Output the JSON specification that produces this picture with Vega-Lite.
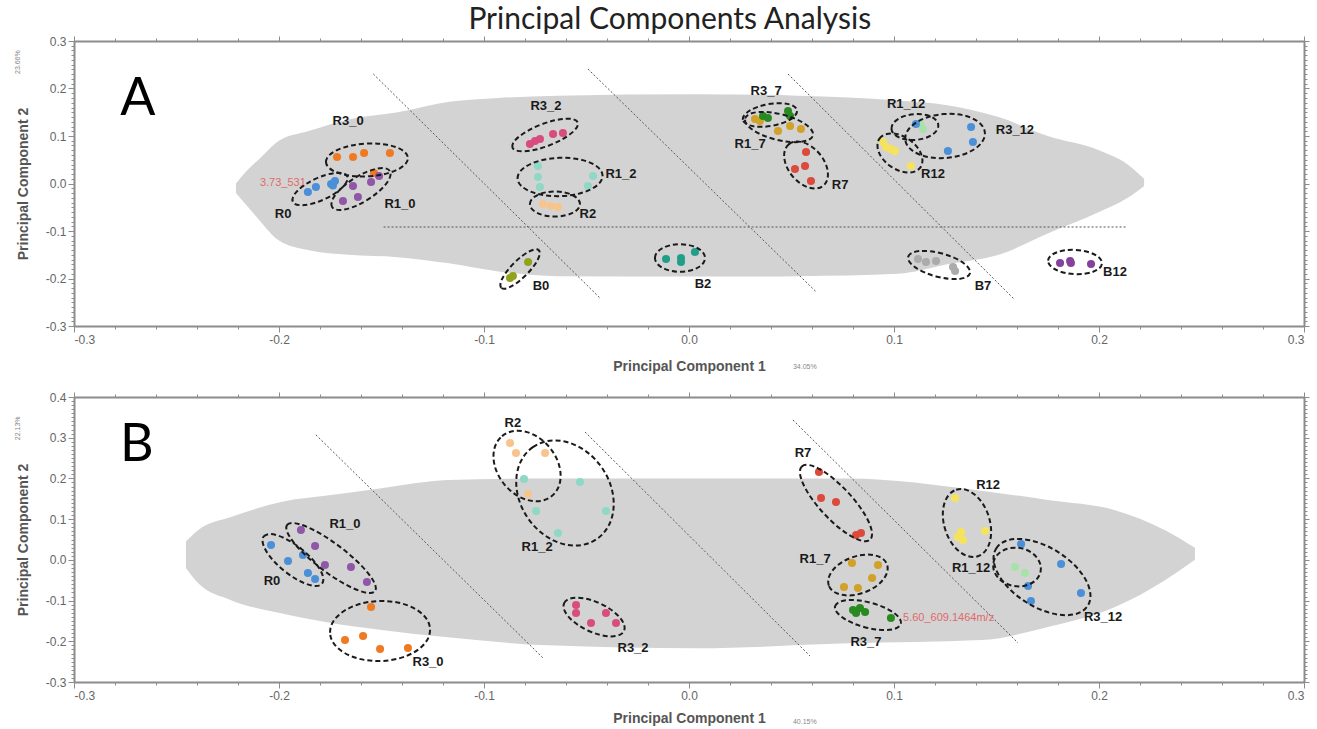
{
  "$schema": "https://vega.github.io/schema/vega-lite/v6.json",
  "background": "white",
  "padding": {"left": 14, "top": 5, "right": 5, "bottom": 2},
  "title": {"text": "Principal Components Analysis", "font": "Lato", "fontSize": 30, "fontWeight": "normal", "color": "#222", "anchor": "middle", "offset": 0, "dx": 8},
  "config": {
    "view": {"stroke": null},
    "axis": {"grid": false, "domainColor": "#8c8c8c", "domainWidth": 2, "tickColor": "#8c8c8c", "labelFont": "Liberation Sans", "labelFontSize": 12, "labelColor": "#666", "titleFont": "Liberation Sans", "titleFontSize": 14, "titleFontWeight": "bold", "titleColor": "#555"}
  },
  "datasets": {
    "cloudA": [
      {"x": -0.221, "top": 0.0, "bot": -0.02},
      {"x": -0.215, "top": 0.03, "bot": -0.05},
      {"x": -0.21, "top": 0.05, "bot": -0.075},
      {"x": -0.2, "top": 0.09, "bot": -0.12},
      {"x": -0.186, "top": 0.11, "bot": -0.14},
      {"x": -0.166, "top": 0.135, "bot": -0.15},
      {"x": -0.142, "top": 0.15, "bot": -0.155},
      {"x": -0.117, "top": 0.172, "bot": -0.168},
      {"x": -0.093, "top": 0.18, "bot": -0.185},
      {"x": -0.064, "top": 0.185, "bot": -0.195},
      {"x": 0.004, "top": 0.188, "bot": -0.196},
      {"x": 0.053, "top": 0.185, "bot": -0.195},
      {"x": 0.102, "top": 0.175, "bot": -0.19},
      {"x": 0.126, "top": 0.165, "bot": -0.17},
      {"x": 0.151, "top": 0.14, "bot": -0.15},
      {"x": 0.175, "top": 0.1, "bot": -0.105},
      {"x": 0.2, "top": 0.07, "bot": -0.06},
      {"x": 0.214, "top": 0.04, "bot": -0.03},
      {"x": 0.222, "top": 0.01, "bot": -0.005}
    ],
    "cloudB": [
      {"x": -0.2454, "top": 0.045, "bot": -0.02},
      {"x": -0.2395, "top": 0.073, "bot": -0.057},
      {"x": -0.2234, "top": 0.105, "bot": -0.099},
      {"x": -0.199, "top": 0.142, "bot": -0.131},
      {"x": -0.1746, "top": 0.159, "bot": -0.155},
      {"x": -0.15, "top": 0.176, "bot": -0.172},
      {"x": -0.1176, "top": 0.196, "bot": -0.19},
      {"x": -0.0688, "top": 0.2, "bot": -0.21},
      {"x": 0.0044, "top": 0.2, "bot": -0.217},
      {"x": 0.0776, "top": 0.2, "bot": -0.205},
      {"x": 0.1424, "top": 0.17, "bot": -0.197},
      {"x": 0.1751, "top": 0.147, "bot": -0.165},
      {"x": 0.2078, "top": 0.122, "bot": -0.116},
      {"x": 0.2322, "top": 0.073, "bot": -0.05},
      {"x": 0.2468, "top": 0.03, "bot": 0.0}
    ],
    "linesA": [
      {"x": -0.154, "y": 0.2305, "x2": -0.043, "y2": -0.243},
      {"x": -0.0493, "y": 0.241, "x2": 0.062, "y2": -0.228},
      {"x": 0.0483, "y": 0.2305, "x2": 0.1585, "y2": -0.243},
      {"x": -0.149, "y": -0.0916, "x2": 0.213, "y2": -0.0916}
    ],
    "linesB": [
      {"x": -0.182, "y": 0.307, "x2": -0.0712, "y2": -0.241},
      {"x": -0.0507, "y": 0.314, "x2": 0.059, "y2": -0.236},
      {"x": 0.0507, "y": 0.3435, "x2": 0.1605, "y2": -0.204}
    ],
    "redA": [{"x": -0.2093, "y": 0.001, "text": "3.73_531"}],
    "redB": [{"x": 0.1044, "y": -0.143, "text": "5.60_609.1464m/z"}],
    "ptsA": [
      {"g": "R3_0", "x": -0.1717, "y": 0.0558}, {"g": "R3_0", "x": -0.1639, "y": 0.0558}, {"g": "R3_0", "x": -0.1585, "y": 0.0642}, {"g": "R3_0", "x": -0.1459, "y": 0.0642}, {"g": "R3_0", "x": -0.1537, "y": 0.022},
      {"g": "R0", "x": -0.1859, "y": -0.018}, {"g": "R0", "x": -0.182, "y": -0.0074}, {"g": "R0", "x": -0.1746, "y": -0.0011}, {"g": "R0", "x": -0.1727, "y": 0.0053}, {"g": "R0", "x": -0.1737, "y": -0.0042},
      {"g": "R1_0", "x": -0.1639, "y": -0.0053}, {"g": "R1_0", "x": -0.1688, "y": -0.0368}, {"g": "R1_0", "x": -0.1615, "y": -0.0284}, {"g": "R1_0", "x": -0.1551, "y": 0.0032}, {"g": "R1_0", "x": -0.1512, "y": 0.0158},
      {"g": "R3_2", "x": -0.0776, "y": 0.0832}, {"g": "R3_2", "x": -0.0751, "y": 0.0895}, {"g": "R3_2", "x": -0.0727, "y": 0.0937}, {"g": "R3_2", "x": -0.0663, "y": 0.1042}, {"g": "R3_2", "x": -0.0615, "y": 0.1063},
      {"g": "R1_2", "x": -0.0737, "y": 0.0368}, {"g": "R1_2", "x": -0.0737, "y": 0.0137}, {"g": "R1_2", "x": -0.0727, "y": -0.0074}, {"g": "R1_2", "x": -0.0493, "y": -0.0053}, {"g": "R1_2", "x": -0.0468, "y": 0.0158},
      {"g": "R2", "x": -0.0712, "y": -0.0432}, {"g": "R2", "x": -0.0673, "y": -0.0474}, {"g": "R2", "x": -0.0639, "y": -0.0495},
      {"g": "B0", "x": -0.0859, "y": -0.1947}, {"g": "B0", "x": -0.0785, "y": -0.1653}, {"g": "B0", "x": -0.0873, "y": -0.199},
      {"g": "B2", "x": -0.0112, "y": -0.1589}, {"g": "B2", "x": -0.0039, "y": -0.1653}, {"g": "B2", "x": -0.0039, "y": -0.1568}, {"g": "B2", "x": 0.0029, "y": -0.1442},
      {"g": "R1_7", "x": 0.0322, "y": 0.1358}, {"g": "R1_7", "x": 0.0346, "y": 0.1316}, {"g": "R1_7", "x": 0.0434, "y": 0.1105}, {"g": "R1_7", "x": 0.0493, "y": 0.1211}, {"g": "R1_7", "x": 0.0546, "y": 0.1147},
      {"g": "R3_7", "x": 0.0361, "y": 0.1421}, {"g": "R3_7", "x": 0.0483, "y": 0.1526}, {"g": "R3_7", "x": 0.0385, "y": 0.1379}, {"g": "R3_7", "x": 0.0493, "y": 0.1421},
      {"g": "R7", "x": 0.0571, "y": 0.0663}, {"g": "R7", "x": 0.0566, "y": 0.0368}, {"g": "R7", "x": 0.0517, "y": 0.0305}, {"g": "R7", "x": 0.0595, "y": 0.0053},
      {"g": "R1_12", "x": 0.1127, "y": 0.1253}, {"g": "R1_12", "x": 0.1141, "y": 0.1147},
      {"g": "R3_12", "x": 0.1376, "y": 0.1189}, {"g": "R3_12", "x": 0.1385, "y": 0.0874}, {"g": "R3_12", "x": 0.1263, "y": 0.0684}, {"g": "R3_12", "x": 0.1107, "y": 0.1253},
      {"g": "R12", "x": 0.0961, "y": 0.0768}, {"g": "R12", "x": 0.1005, "y": 0.0684}, {"g": "R12", "x": 0.1083, "y": 0.0368}, {"g": "R12", "x": 0.0946, "y": 0.0874}, {"g": "R12", "x": 0.0985, "y": 0.0726},
      {"g": "B7", "x": 0.1117, "y": -0.1589}, {"g": "B7", "x": 0.1156, "y": -0.1653}, {"g": "B7", "x": 0.1205, "y": -0.1632}, {"g": "B7", "x": 0.1288, "y": -0.1758}, {"g": "B7", "x": 0.1298, "y": -0.1842},
      {"g": "B12", "x": 0.181, "y": -0.1674}, {"g": "B12", "x": 0.1859, "y": -0.1632}, {"g": "B12", "x": 0.1863, "y": -0.1674}, {"g": "B12", "x": 0.1961, "y": -0.1695}
    ],
    "ptsB": [
      {"g": "R0", "x": -0.2039, "y": 0.0365}, {"g": "R0", "x": -0.1956, "y": -0.0028}, {"g": "R0", "x": -0.1883, "y": 0.0119}, {"g": "R0", "x": -0.1859, "y": -0.0323}, {"g": "R0", "x": -0.1824, "y": -0.0471},
      {"g": "R1_0", "x": -0.1893, "y": 0.0733}, {"g": "R1_0", "x": -0.1824, "y": 0.034}, {"g": "R1_0", "x": -0.1776, "y": -0.0127}, {"g": "R1_0", "x": -0.1649, "y": -0.0176}, {"g": "R1_0", "x": -0.1571, "y": -0.0544},
      {"g": "R3_0", "x": -0.1551, "y": -0.1158}, {"g": "R3_0", "x": -0.1678, "y": -0.1969}, {"g": "R3_0", "x": -0.159, "y": -0.1871}, {"g": "R3_0", "x": -0.1507, "y": -0.219}, {"g": "R3_0", "x": -0.1371, "y": -0.2166},
      {"g": "R2", "x": -0.0873, "y": 0.287}, {"g": "R2", "x": -0.0844, "y": 0.2624}, {"g": "R2", "x": -0.0702, "y": 0.2624}, {"g": "R2", "x": -0.0785, "y": 0.1617},
      {"g": "R1_2", "x": -0.0805, "y": 0.1986}, {"g": "R1_2", "x": -0.0532, "y": 0.1912}, {"g": "R1_2", "x": -0.0746, "y": 0.12}, {"g": "R1_2", "x": -0.0405, "y": 0.12}, {"g": "R1_2", "x": -0.0639, "y": 0.0659},
      {"g": "R3_2", "x": -0.0551, "y": -0.1109}, {"g": "R3_2", "x": -0.0551, "y": -0.1306}, {"g": "R3_2", "x": -0.0478, "y": -0.1551}, {"g": "R3_2", "x": -0.0405, "y": -0.1306}, {"g": "R3_2", "x": -0.0356, "y": -0.1551},
      {"g": "R7", "x": 0.0634, "y": 0.2158}, {"g": "R7", "x": 0.0644, "y": 0.1519}, {"g": "R7", "x": 0.0717, "y": 0.1421}, {"g": "R7", "x": 0.0815, "y": 0.061}, {"g": "R7", "x": 0.0839, "y": 0.0659},
      {"g": "R1_7", "x": 0.0795, "y": -0.0078}, {"g": "R1_7", "x": 0.0922, "y": -0.0127}, {"g": "R1_7", "x": 0.0893, "y": -0.0446}, {"g": "R1_7", "x": 0.0756, "y": -0.0667}, {"g": "R1_7", "x": 0.0824, "y": -0.0692},
      {"g": "R3_7", "x": 0.08, "y": -0.1232}, {"g": "R3_7", "x": 0.0834, "y": -0.1183}, {"g": "R3_7", "x": 0.0859, "y": -0.1281}, {"g": "R3_7", "x": 0.0815, "y": -0.1306}, {"g": "R3_7", "x": 0.0985, "y": -0.1429},
      {"g": "R12", "x": 0.1298, "y": 0.1519}, {"g": "R12", "x": 0.1327, "y": 0.0684}, {"g": "R12", "x": 0.1312, "y": 0.0561}, {"g": "R12", "x": 0.1444, "y": 0.0708}, {"g": "R12", "x": 0.1337, "y": 0.0487},
      {"g": "R1_12", "x": 0.159, "y": -0.0176}, {"g": "R1_12", "x": 0.1639, "y": -0.0323},
      {"g": "R3_12", "x": 0.162, "y": 0.0389}, {"g": "R3_12", "x": 0.1815, "y": -0.0102}, {"g": "R3_12", "x": 0.1654, "y": -0.0643}, {"g": "R3_12", "x": 0.1912, "y": -0.0815}, {"g": "R3_12", "x": 0.1668, "y": -0.1011}
    ],
    "ellA": [
      {"g": "R3_0", "x": -0.1571, "y": 0.0495, "span": 0.04, "ratio": 0.4, "tilt": -3},
      {"g": "R0", "x": -0.18, "y": -0.0116, "span": 0.0293, "ratio": 0.37, "tilt": -25},
      {"g": "R1_0", "x": -0.16, "y": -0.0116, "span": 0.0332, "ratio": 0.37, "tilt": -32},
      {"g": "R3_2", "x": -0.0702, "y": 0.1021, "span": 0.0341, "ratio": 0.32, "tilt": -21},
      {"g": "R1_2", "x": -0.0629, "y": 0.0137, "span": 0.0415, "ratio": 0.45, "tilt": -2},
      {"g": "R2", "x": -0.0654, "y": -0.0432, "span": 0.0244, "ratio": 0.5, "tilt": 0},
      {"g": "B0", "x": -0.0824, "y": -0.18, "span": 0.0259, "ratio": 0.32, "tilt": -45},
      {"g": "B2", "x": -0.0044, "y": -0.1568, "span": 0.0244, "ratio": 0.55, "tilt": 0},
      {"g": "R3_7", "x": 0.0395, "y": 0.1442, "span": 0.0268, "ratio": 0.4, "tilt": -10},
      {"g": "R1_7", "x": 0.0439, "y": 0.1189, "span": 0.0341, "ratio": 0.37, "tilt": 14},
      {"g": "R7", "x": 0.0571, "y": 0.0389, "span": 0.0263, "ratio": 0.65, "tilt": 50},
      {"g": "R1_12", "x": 0.1102, "y": 0.1189, "span": 0.0229, "ratio": 0.55, "tilt": -5},
      {"g": "R3_12", "x": 0.1249, "y": 0.1, "span": 0.039, "ratio": 0.55, "tilt": -5},
      {"g": "R12", "x": 0.1029, "y": 0.0642, "span": 0.0244, "ratio": 0.65, "tilt": 35},
      {"g": "B7", "x": 0.122, "y": -0.1716, "span": 0.0312, "ratio": 0.37, "tilt": 15},
      {"g": "B12", "x": 0.1883, "y": -0.1653, "span": 0.0263, "ratio": 0.45, "tilt": 3}
    ],
    "ellB": [
      {"g": "R0", "x": -0.1932, "y": -0.0004, "span": 0.0366, "ratio": 0.37, "tilt": 39},
      {"g": "R1_0", "x": -0.1746, "y": 0.0045, "span": 0.0537, "ratio": 0.26, "tilt": 37},
      {"g": "R3_0", "x": -0.1507, "y": -0.1748, "span": 0.0488, "ratio": 0.6, "tilt": -2},
      {"g": "R2", "x": -0.079, "y": 0.2305, "span": 0.038, "ratio": 0.75, "tilt": 50},
      {"g": "R1_2", "x": -0.0605, "y": 0.1642, "span": 0.0546, "ratio": 0.8, "tilt": 55},
      {"g": "R3_2", "x": -0.0463, "y": -0.1404, "span": 0.0322, "ratio": 0.45, "tilt": 25},
      {"g": "R7", "x": 0.0717, "y": 0.1396, "span": 0.0488, "ratio": 0.32, "tilt": 47},
      {"g": "R1_7", "x": 0.0824, "y": -0.0372, "span": 0.0302, "ratio": 0.6, "tilt": -20},
      {"g": "R3_7", "x": 0.0873, "y": -0.1355, "span": 0.0332, "ratio": 0.37, "tilt": 15},
      {"g": "R12", "x": 0.1356, "y": 0.0905, "span": 0.0341, "ratio": 0.65, "tilt": 72},
      {"g": "R1_12", "x": 0.16, "y": -0.0176, "span": 0.0234, "ratio": 0.8, "tilt": 10},
      {"g": "R3_12", "x": 0.1722, "y": -0.0422, "span": 0.0527, "ratio": 0.55, "tilt": 32}
    ],
    "labA": [
      {"text": "R3_0", "x": -0.1663, "y": 0.1316},
      {"text": "R0", "x": -0.198, "y": -0.0642},
      {"text": "R1_0", "x": -0.141, "y": -0.0432},
      {"text": "R3_2", "x": -0.0698, "y": 0.1632},
      {"text": "R1_2", "x": -0.0332, "y": 0.02},
      {"text": "R2", "x": -0.0493, "y": -0.0642},
      {"text": "B0", "x": -0.0722, "y": -0.2158},
      {"text": "B2", "x": 0.0068, "y": -0.2116},
      {"text": "R3_7", "x": 0.0376, "y": 0.1947},
      {"text": "R1_7", "x": 0.0298, "y": 0.0832},
      {"text": "R7", "x": 0.0737, "y": -0.0032},
      {"text": "R1_12", "x": 0.1059, "y": 0.1674},
      {"text": "R3_12", "x": 0.159, "y": 0.1126},
      {"text": "R12", "x": 0.119, "y": 0.02},
      {"text": "B7", "x": 0.1434, "y": -0.2158},
      {"text": "B12", "x": 0.2078, "y": -0.1863}
    ],
    "labB": [
      {"text": "R1_0", "x": -0.1678, "y": 0.088},
      {"text": "R0", "x": -0.2034, "y": -0.052},
      {"text": "R3_0", "x": -0.1273, "y": -0.251},
      {"text": "R2", "x": -0.0859, "y": 0.3361},
      {"text": "R1_2", "x": -0.0741, "y": 0.0315},
      {"text": "R3_2", "x": -0.0273, "y": -0.2166},
      {"text": "R7", "x": 0.0556, "y": 0.2624},
      {"text": "R1_7", "x": 0.0615, "y": 0.0021},
      {"text": "R3_7", "x": 0.0863, "y": -0.2018},
      {"text": "R12", "x": 0.1459, "y": 0.1838},
      {"text": "R1_12", "x": 0.1376, "y": -0.02},
      {"text": "R3_12", "x": 0.202, "y": -0.1404}
    ],
    "bigA": [{"text": "A", "x": -0.2688, "y": 0.1779}],
    "bigB": [{"text": "B", "x": -0.2693, "y": 0.282}],
    "pctA": [{"text": "34.05%", "x": 0.0507, "y": -0.386, "rot": 0}, {"text": "23.66%", "x": -0.3273, "y": 0.2305, "rot": 270}],
    "pctB": [{"text": "40.15%", "x": 0.0507, "y": -0.398, "rot": 0}, {"text": "22.13%", "x": -0.3273, "y": 0.294, "rot": 270}]
  },
  "spacing": 18,
  "vconcat": [
    {
      "width": 1230, "height": 285,
      "resolve": {"axis": {"x": "independent", "y": "independent"}},
      "layer": [
        {"mark": {"type": "rule", "color": "#6e6e6e", "strokeWidth": 1.5},
         "encoding": {"y": {"datum": 0, "type": "quantitative", "scale": {"domain": [-0.3, 0.3], "nice": false, "zero": false}, "axis": null}}},
        {"data": {"name": "cloudA"},
         "mark": {"type": "area", "color": "#d3d3d3", "interpolate": "monotone", "opacity": 1},
         "encoding": {
           "x": {"field": "x", "type": "quantitative", "scale": {"domain": [-0.3, 0.3], "nice": false, "zero": false}, "axis": {"orient": "bottom", "values": [-0.3, -0.2, -0.1, 0, 0.1, 0.2, 0.3], "format": ".1f", "labelExpr": "replace(datum.label, '\u2212', '-')", "tickSize": 6, "title": "Principal Component 1", "titlePadding": 14}},
           "y": {"field": "top", "type": "quantitative", "scale": {"domain": [-0.3, 0.3], "nice": false, "zero": false}, "axis": {"orient": "left", "values": [-0.3, -0.2, -0.1, 0, 0.1, 0.2, 0.3], "format": ".1f", "labelExpr": "replace(datum.label, '\u2212', '-')", "tickSize": 6, "title": "Principal Component 2", "titlePadding": 15}},
           "y2": {"field": "bot"}
         }},
        {"data": {"name": "linesA"},
         "mark": {"type": "rule", "color": "#555", "strokeWidth": 1, "strokeDash": [2, 2]},
         "encoding": {
           "x": {"field": "x", "type": "quantitative", "axis": {"orient": "bottom", "tickCount": 30, "labels": false, "title": null, "domain": false, "tickSize": 3}},
           "y": {"field": "y", "type": "quantitative", "axis": {"orient": "left", "tickCount": 60, "labels": false, "title": null, "domain": false, "tickSize": 3}},
           "x2": {"field": "x2"}, "y2": {"field": "y2"}
         }},
        {"data": {"name": "redA"},
         "mark": {"type": "text", "color": "#e06a6a", "fontSize": 11, "font": "Liberation Sans", "align": "left", "baseline": "middle"},
         "encoding": {"x": {"field": "x", "type": "quantitative", "axis": null}, "y": {"field": "y", "type": "quantitative", "axis": null}, "text": {"field": "text"}}},
        {"data": {"name": "ptsA"},
         "mark": {"type": "circle", "size": 65, "opacity": 1},
         "encoding": {
           "x": {"field": "x", "type": "quantitative", "axis": {"orient": "top", "values": [-0.3, -0.2, -0.1, 0, 0.1, 0.2, 0.3], "labels": false, "title": null, "tickSize": 5}},
           "y": {"field": "y", "type": "quantitative", "axis": {"orient": "right", "values": [-0.3, -0.2, -0.1, 0, 0.1, 0.2, 0.3], "labels": false, "title": null, "tickSize": 5}},
           "color": {"field": "g", "type": "nominal", "legend": null, "scale": {"domain": ["R0", "R3_0", "R1_0", "R3_2", "R1_2", "R2", "B0", "B2", "R3_7", "R1_7", "R7", "R1_12", "R3_12", "R12", "B7", "B12"], "range": ["#4a8fd8", "#f07a22", "#9057a8", "#d84c7e", "#8fd8c6", "#f8c48e", "#93a21b", "#1f9e88", "#2a8a22", "#d1a128", "#dc4a3c", "#a7e2a9", "#4a8fd8", "#f6e35c", "#ababab", "#86419c"]}}
         }},
        {"data": {"name": "ellA"},
         "mark": {"type": "point", "filled": false, "color": "#1a1a1a", "strokeWidth": 2, "strokeDash": [5, 3], "opacity": 1},
         "encoding": {
           "x": {"field": "x", "type": "quantitative", "axis": {"orient": "top", "tickCount": 30, "labels": false, "title": null, "domain": false, "tickSize": 3}},
           "y": {"field": "y", "type": "quantitative", "axis": {"orient": "right", "tickCount": 60, "labels": false, "title": null, "domain": false, "tickSize": 3}},
           "size": {"field": "span", "type": "quantitative", "legend": null, "scale": {"type": "pow", "exponent": 2, "domain": [0, 0.1], "range": [0, 42025]}},
           "angle": {"field": "tilt", "type": "quantitative", "scale": null},
           "shape": {"field": "ratio", "type": "nominal", "legend": null, "scale": {
             "domain": [0.26, 0.32, 0.37, 0.4, 0.45, 0.5, 0.55, 0.6, 0.65, 0.75, 0.8],
             "range": [
               "M -1 0 A 1 0.26 0 1 1 1 0 A 1 0.26 0 1 1 -1 0 Z",
               "M -1 0 A 1 0.32 0 1 1 1 0 A 1 0.32 0 1 1 -1 0 Z",
               "M -1 0 A 1 0.37 0 1 1 1 0 A 1 0.37 0 1 1 -1 0 Z",
               "M -1 0 A 1 0.4 0 1 1 1 0 A 1 0.4 0 1 1 -1 0 Z",
               "M -1 0 A 1 0.45 0 1 1 1 0 A 1 0.45 0 1 1 -1 0 Z",
               "M -1 0 A 1 0.5 0 1 1 1 0 A 1 0.5 0 1 1 -1 0 Z",
               "M -1 0 A 1 0.55 0 1 1 1 0 A 1 0.55 0 1 1 -1 0 Z",
               "M -1 0 A 1 0.6 0 1 1 1 0 A 1 0.6 0 1 1 -1 0 Z",
               "M -1 0 A 1 0.65 0 1 1 1 0 A 1 0.65 0 1 1 -1 0 Z",
               "M -1 0 A 1 0.75 0 1 1 1 0 A 1 0.75 0 1 1 -1 0 Z",
               "M -1 0 A 1 0.8 0 1 1 1 0 A 1 0.8 0 1 1 -1 0 Z"
             ]}}
         }},
        {"data": {"name": "labA"},
         "mark": {"type": "text", "font": "Liberation Sans", "fontWeight": "bold", "fontSize": 13, "color": "#1a1a1a"},
         "encoding": {"x": {"field": "x", "type": "quantitative", "axis": null}, "y": {"field": "y", "type": "quantitative", "axis": null}, "text": {"field": "text"}}},
        {"data": {"name": "bigA"},
         "mark": {"type": "text", "font": "Lato", "fontSize": 52, "color": "#000"},
         "encoding": {"x": {"field": "x", "type": "quantitative", "axis": null}, "y": {"field": "y", "type": "quantitative", "axis": null}, "text": {"field": "text"}}},
        {"data": {"name": "pctA"},
         "mark": {"type": "text", "font": "Liberation Sans", "fontSize": 7, "color": "#888", "align": "left", "baseline": "middle"},
         "encoding": {"x": {"field": "x", "type": "quantitative", "axis": null}, "y": {"field": "y", "type": "quantitative", "axis": null}, "text": {"field": "text"}, "angle": {"field": "rot", "type": "quantitative", "scale": null}}}
      ]
    },
    {
      "width": 1230, "height": 285,
      "resolve": {"axis": {"x": "independent", "y": "independent"}},
      "layer": [
        {"mark": {"type": "rule", "color": "#6e6e6e", "strokeWidth": 1.5},
         "encoding": {"y": {"datum": 0, "type": "quantitative", "scale": {"domain": [-0.3, 0.4], "nice": false, "zero": false}, "axis": null}}},
        {"data": {"name": "cloudB"},
         "mark": {"type": "area", "color": "#d3d3d3", "interpolate": "monotone", "opacity": 1},
         "encoding": {
           "x": {"field": "x", "type": "quantitative", "scale": {"domain": [-0.3, 0.3], "nice": false, "zero": false}, "axis": {"orient": "bottom", "values": [-0.3, -0.2, -0.1, 0, 0.1, 0.2, 0.3], "format": ".1f", "labelExpr": "replace(datum.label, '\u2212', '-')", "tickSize": 6, "title": "Principal Component 1", "titlePadding": 10}},
           "y": {"field": "top", "type": "quantitative", "scale": {"domain": [-0.3, 0.4], "nice": false, "zero": false}, "axis": {"orient": "left", "values": [-0.3, -0.2, -0.1, 0, 0.1, 0.2, 0.3, 0.4], "format": ".1f", "labelExpr": "replace(datum.label, '\u2212', '-')", "tickSize": 6, "title": "Principal Component 2", "titlePadding": 15}},
           "y2": {"field": "bot"}
         }},
        {"data": {"name": "linesB"},
         "mark": {"type": "rule", "color": "#555", "strokeWidth": 1, "strokeDash": [2, 2]},
         "encoding": {
           "x": {"field": "x", "type": "quantitative", "axis": {"orient": "bottom", "tickCount": 30, "labels": false, "title": null, "domain": false, "tickSize": 3}},
           "y": {"field": "y", "type": "quantitative", "axis": {"orient": "left", "tickCount": 70, "labels": false, "title": null, "domain": false, "tickSize": 3}},
           "x2": {"field": "x2"}, "y2": {"field": "y2"}
         }},
        {"data": {"name": "redB"},
         "mark": {"type": "text", "color": "#e06a6a", "fontSize": 11, "font": "Liberation Sans", "align": "left", "baseline": "middle"},
         "encoding": {"x": {"field": "x", "type": "quantitative", "axis": null}, "y": {"field": "y", "type": "quantitative", "axis": null}, "text": {"field": "text"}}},
        {"data": {"name": "ptsB"},
         "mark": {"type": "circle", "size": 65, "opacity": 1},
         "encoding": {
           "x": {"field": "x", "type": "quantitative", "axis": {"orient": "top", "values": [-0.3, -0.2, -0.1, 0, 0.1, 0.2, 0.3], "labels": false, "title": null, "tickSize": 5}},
           "y": {"field": "y", "type": "quantitative", "axis": {"orient": "right", "values": [-0.3, -0.2, -0.1, 0, 0.1, 0.2, 0.3, 0.4], "labels": false, "title": null, "tickSize": 5}},
           "color": {"field": "g", "type": "nominal", "legend": null, "scale": {"domain": ["R0", "R3_0", "R1_0", "R3_2", "R1_2", "R2", "B0", "B2", "R3_7", "R1_7", "R7", "R1_12", "R3_12", "R12", "B7", "B12"], "range": ["#4a8fd8", "#f07a22", "#9057a8", "#d84c7e", "#8fd8c6", "#f8c48e", "#93a21b", "#1f9e88", "#2a8a22", "#d1a128", "#dc4a3c", "#a7e2a9", "#4a8fd8", "#f6e35c", "#ababab", "#86419c"]}}
         }},
        {"data": {"name": "ellB"},
         "mark": {"type": "point", "filled": false, "color": "#1a1a1a", "strokeWidth": 2, "strokeDash": [5, 3], "opacity": 1},
         "encoding": {
           "x": {"field": "x", "type": "quantitative", "axis": {"orient": "top", "tickCount": 30, "labels": false, "title": null, "domain": false, "tickSize": 3}},
           "y": {"field": "y", "type": "quantitative", "axis": {"orient": "right", "tickCount": 70, "labels": false, "title": null, "domain": false, "tickSize": 3}},
           "size": {"field": "span", "type": "quantitative", "legend": null, "scale": {"type": "pow", "exponent": 2, "domain": [0, 0.1], "range": [0, 42025]}},
           "angle": {"field": "tilt", "type": "quantitative", "scale": null},
           "shape": {"field": "ratio", "type": "nominal", "legend": null, "scale": {
             "domain": [0.26, 0.32, 0.37, 0.4, 0.45, 0.5, 0.55, 0.6, 0.65, 0.75, 0.8],
             "range": [
               "M -1 0 A 1 0.26 0 1 1 1 0 A 1 0.26 0 1 1 -1 0 Z",
               "M -1 0 A 1 0.32 0 1 1 1 0 A 1 0.32 0 1 1 -1 0 Z",
               "M -1 0 A 1 0.37 0 1 1 1 0 A 1 0.37 0 1 1 -1 0 Z",
               "M -1 0 A 1 0.4 0 1 1 1 0 A 1 0.4 0 1 1 -1 0 Z",
               "M -1 0 A 1 0.45 0 1 1 1 0 A 1 0.45 0 1 1 -1 0 Z",
               "M -1 0 A 1 0.5 0 1 1 1 0 A 1 0.5 0 1 1 -1 0 Z",
               "M -1 0 A 1 0.55 0 1 1 1 0 A 1 0.55 0 1 1 -1 0 Z",
               "M -1 0 A 1 0.6 0 1 1 1 0 A 1 0.6 0 1 1 -1 0 Z",
               "M -1 0 A 1 0.65 0 1 1 1 0 A 1 0.65 0 1 1 -1 0 Z",
               "M -1 0 A 1 0.75 0 1 1 1 0 A 1 0.75 0 1 1 -1 0 Z",
               "M -1 0 A 1 0.8 0 1 1 1 0 A 1 0.8 0 1 1 -1 0 Z"
             ]}}
         }},
        {"data": {"name": "labB"},
         "mark": {"type": "text", "font": "Liberation Sans", "fontWeight": "bold", "fontSize": 13, "color": "#1a1a1a"},
         "encoding": {"x": {"field": "x", "type": "quantitative", "axis": null}, "y": {"field": "y", "type": "quantitative", "axis": null}, "text": {"field": "text"}}},
        {"data": {"name": "bigB"},
         "mark": {"type": "text", "font": "Lato", "fontSize": 52, "color": "#000"},
         "encoding": {"x": {"field": "x", "type": "quantitative", "axis": null}, "y": {"field": "y", "type": "quantitative", "axis": null}, "text": {"field": "text"}}},
        {"data": {"name": "pctB"},
         "mark": {"type": "text", "font": "Liberation Sans", "fontSize": 7, "color": "#888", "align": "left", "baseline": "middle"},
         "encoding": {"x": {"field": "x", "type": "quantitative", "axis": null}, "y": {"field": "y", "type": "quantitative", "axis": null}, "text": {"field": "text"}, "angle": {"field": "rot", "type": "quantitative", "scale": null}}}
      ]
    }
  ]
}
